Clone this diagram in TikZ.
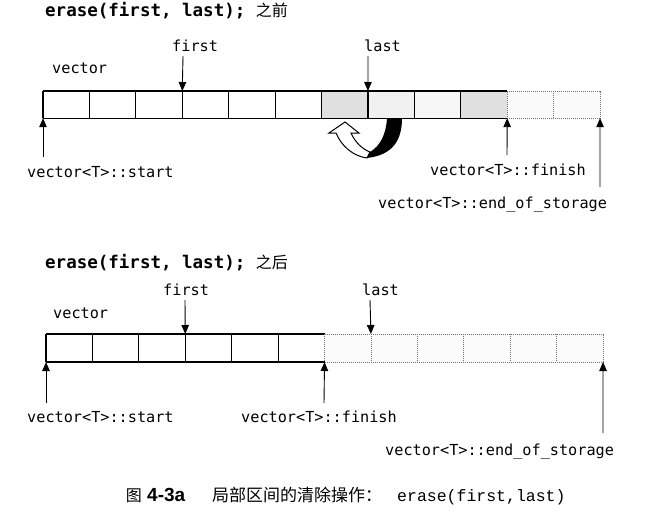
\documentclass[tikz,border=0pt]{standalone}
\usepackage{fontspec}
\usetikzlibrary{arrows.meta}
\newfontfamily\lblfont{DejaVu Sans Mono}
\newfontfamily\cjk{Noto Sans CJK SC}
\newfontfamily\capcode{Liberation Mono}
\newfontfamily\capnum{Liberation Sans}
\tikzset{
  cell/.style={minimum width=46.42pt, minimum height=27.2pt, inner sep=0pt, outer sep=0pt, draw=none},
  solidln/.style={line width=1.2pt, black},
  dotln/.style={line width=0.8pt, black!55, dash pattern=on 1pt off 1pt},
  ptr/.style={line width=0.9pt, black, -{Triangle[length=9pt,width=7.5pt]}},
  lbl/.style={font=\lblfont\fontsize{15.2pt}{18pt}\selectfont, inner sep=0pt, anchor=base west},
  ttl/.style={font=\lblfont\bfseries\fontsize{17.5pt}{20pt}\selectfont, inner sep=0pt, anchor=base west},
  capnode/.style={inner sep=0pt}
}
\begin{document}
\begin{tikzpicture}[x=1pt,y=-1pt]
\useasboundingbox[fill=white] (0,0) rectangle (663,527);

% ---------- top: before ----------
\node[ttl] (title1) at (45,16.5) {erase(first, last);~{\cjk\mdseries\fontsize{16pt}{16pt}\selectfont 之前}};
\node[lbl] (vec1) at (52,73) {vector};
\node[lbl] (first1) at (172,52) {first};
\node[lbl] (last1) at (364,52) {last};

\foreach \i/\g in {0/0,1/0,2/0,3/0,4/0,5/0,6/24,7/11,8/6,9/24,10/4,11/4}
  \node[cell, fill=gray!\g] (t\i) at ({43+46.42*\i+23.21},104.6) {};

\draw[solidln] (t0.north west) -- (t10.north west);
\draw[solidln] (t0.south west) -- (t10.south west);
\foreach \i in {0,...,9} \draw[solidln] (t\i.north west) -- (t\i.south west);
\draw[dotln] (t10.north west) -- (t11.north east) -- (t11.south east) -- (t10.south west) -- cycle;
\draw[dotln] (t11.north west) -- (t11.south west);

\coordinate (af1) at (183,56);
\coordinate (al1) at (368,56);
\coordinate (as1) at (43,157);
\coordinate (afi1) at (507,155);
\coordinate (ae1) at (600,187);
\draw[ptr] (af1) -- (t3.north west);
\draw[ptr] (al1) -- (t7.north west);
\draw[ptr] (as1) -- (t0.south west);
\draw[ptr] (afi1) -- (t10.south west);
\draw[ptr] (ae1) -- (t11.south east);

\node[lbl] (start1) at (27,177) {vector<T>::start};
\node[lbl] (finish1) at (430,175) {vector<T>::finish};
\node[lbl] (eos1) at (378,208) {vector<T>::end\_of\_storage};

% curved move arrow
\draw[line width=1pt, fill=white, line join=miter]
  (367,158) .. controls (352,156) and (341,145) .. (336,133)
  -- (329,133) -- (345,122) -- (359,133) -- (351,133)
  .. controls (355,142) and (362,149) .. (370,152) -- cycle;
\fill[black]
  (387,118) -- (402,118) .. controls (402,140) and (393,155) .. (367,158)
  -- (370,152) .. controls (380,146) and (386,135) .. (387,118) -- cycle;

% ---------- bottom: after ----------
\node[ttl] (title2) at (45,268) {erase(first, last);~{\cjk\mdseries\fontsize{16pt}{16pt}\selectfont 之后}};
\node[lbl] (vec2) at (53,318) {vector};
\node[lbl] (first2) at (163,295) {first};
\node[lbl] (last2) at (362,295) {last};

\foreach \i/\g in {0/0,1/0,2/0,3/0,4/0,5/0,6/3,7/3,8/3,9/3,10/3,11/3}
  \node[cell, minimum height=28pt, fill=gray!\g] (b\i) at ({46+46.42*\i+23.21},348) {};

\draw[solidln] (b0.north west) -- (b6.north west);
\draw[solidln] (b0.south west) -- (b6.south west);
\foreach \i in {0,...,5} \draw[solidln] (b\i.north west) -- (b\i.south west);
\draw[dotln] (b6.north west) -- (b11.north east) -- (b11.south east) -- (b6.south west) -- cycle;
\foreach \i in {7,...,11} \draw[dotln] (b\i.north west) -- (b\i.south west);

\coordinate (af2) at (185,300);
\coordinate (al2) at (370,300);
\coordinate (as2) at (46,403);
\coordinate (afi2) at (324,403);
\coordinate (ae2) at (603,433);
\draw[ptr] (af2) -- (b3.north west);
\draw[ptr] (al2) -- (b7.north west);
\draw[ptr] (as2) -- (b0.south west);
\draw[ptr] (afi2) -- (b6.south west);
\draw[ptr] (ae2) -- (b11.south east);

\node[lbl] (start2) at (27,422) {vector<T>::start};
\node[lbl] (finish2) at (241,422) {vector<T>::finish};
\node[lbl] (eos2) at (385,455) {vector<T>::end\_of\_storage};

% ---------- caption ----------
\node[capnode, anchor=base east] (cap0) at (142,501)
  {\cjk\fontsize{16pt}{16pt}\selectfont 图};
\node[capnode, anchor=base west] (cap1) at (147,501)
  {\capnum\bfseries\fontsize{19pt}{19pt}\selectfont 4-3a};
\node[capnode, anchor=base west] (cap2) at (212,501)
  {\cjk\fontsize{17pt}{17pt}\selectfont 局部区间的清除操作：};
\node[capnode, anchor=base west] (cap3) at (397,501)
  {\capcode\fontsize{16.5pt}{16.5pt}\selectfont erase(first,last)};
\end{tikzpicture}
\end{document}
